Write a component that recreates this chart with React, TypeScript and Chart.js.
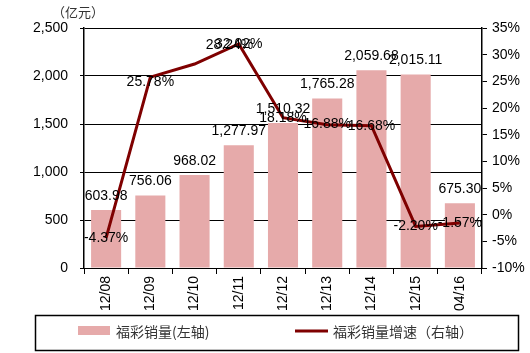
import React, { useEffect, useRef } from "react";
import { Chart, registerables } from "chart.js";

Chart.register(...registerables);

const categories = ["12/08", "12/09", "12/10", "12/11", "12/12", "12/13", "12/14", "12/15", "04/16"];
const salesValues = [603.98, 756.06, 968.02, 1277.97, 1510.32, 1765.28, 2059.68, 2015.11, 675.3];
const growthValues = [-4.37, 25.78, 28.24, 32.02, 18.18, 16.88, 16.68, -2.2, -1.57];
const leftTicks = [0, 500, 1000, 1500, 2000, 2500];
const rightTicks = [-10, -5, 0, 5, 10, 15, 20, 25, 30, 35];
const salesLabel = "福彩销量(左轴)";
const growthLabel = "福彩销量增速（右轴）";
const unitLabel = "（亿元）";

const BAR_COLOR = "#E6AAAA";
const LINE_COLOR = "#7F0000";
const NUM_FONT = "14px 'Liberation Sans', Arial, sans-serif";
const CJK_FONT = "14px 'Noto Sans CJK SC', sans-serif";

const fmtSales = (v: number) =>
  v.toLocaleString("en-US", { minimumFractionDigits: 2, maximumFractionDigits: 2 });
const fmtPct = (v: number) => v.toFixed(2) + "%";

// label offsets for line labels (index -> [dx, dy]) to mimic manual placement
const lineLabelShift: Record<number, [number, number]> = { 2: [35, -19], 1: [0, 5] };

const labelsPlugin = {
  id: "customLabels",
  afterDatasetsDraw(chart: any) {
    const ctx = chart.ctx;
    ctx.save();
    ctx.font = NUM_FONT;
    ctx.fillStyle = "#000";
    ctx.textAlign = "center";
    ctx.textBaseline = "middle";
    const barMeta = chart.getDatasetMeta(0);
    barMeta.data.forEach((el: any, i: number) => {
      ctx.fillText(fmtSales(salesValues[i]), el.x, el.y - 14);
    });
    const lineMeta = chart.getDatasetMeta(1);
    lineMeta.data.forEach((el: any, i: number) => {
      const s = lineLabelShift[i] || [0, 0];
      ctx.fillText(fmtPct(growthValues[i]), el.x + s[0], el.y + s[1]);
    });
    ctx.restore();
  },
  afterDraw(chart: any) {
    const ctx = chart.ctx;
    ctx.save();
    // unit label
    ctx.font = "13px 'Noto Sans CJK SC', sans-serif";
    ctx.fillStyle = "#333";
    ctx.textAlign = "left";
    ctx.textBaseline = "middle";
    ctx.fillText(unitLabel, 52, 12);
    // legend box
    ctx.strokeStyle = "#000";
    ctx.lineWidth = 1.5;
    ctx.strokeRect(35.5, 315.5, 483, 35);
    ctx.fillStyle = BAR_COLOR;
    ctx.fillRect(78, 326, 32, 9);
    ctx.font = CJK_FONT;
    ctx.fillStyle = "#333";
    ctx.fillText(salesLabel, 116, 332);
    ctx.strokeStyle = LINE_COLOR;
    ctx.lineWidth = 3;
    ctx.beginPath();
    ctx.moveTo(295, 331);
    ctx.lineTo(328, 331);
    ctx.stroke();
    ctx.fillText(growthLabel, 333, 332);
    ctx.restore();
  },
};

export default function App() {
  const ref = useRef<HTMLCanvasElement | null>(null);
  useEffect(() => {
    document.body.style.margin = "0";
    const canvas = ref.current!;
    const chart = new Chart(canvas, {
      type: "bar",
      data: {
        labels: categories,
        datasets: [
          {
            type: "bar",
            label: salesLabel,
            data: salesValues,
            backgroundColor: BAR_COLOR,
            yAxisID: "y",
            barPercentage: 0.68,
            categoryPercentage: 1,
            order: 1,
          },
          {
            type: "line",
            label: growthLabel,
            data: growthValues,
            borderColor: LINE_COLOR,
            backgroundColor: LINE_COLOR,
            borderWidth: 3,
            pointRadius: 0,
            tension: 0,
            yAxisID: "y1",
            order: 0,
          } as any,
        ],
      },
      options: {
        responsive: false,
        animation: false,
        layout: { padding: { top: 28, bottom: 40, left: 0, right: 0 } },
        plugins: { legend: { display: false }, tooltip: { enabled: false } },
        scales: {
          x: {
            grid: { offset: true, drawOnChartArea: false, color: "#000", tickLength: 6 },
            border: { color: "#000", width: 1 },
            ticks: {
              color: "#000",
              font: { family: "'Liberation Sans', Arial, sans-serif", size: 14 },
              minRotation: 90,
              maxRotation: 90,
              padding: 2,
            },
            afterFit: (s: any) => {
              s.height = 45;
            },
          },
          y: {
            position: "left",
            min: 0,
            max: 2500,
            afterBuildTicks: (s: any) => {
              s.ticks = leftTicks.map((v) => ({ value: v }));
            },
            grid: { color: "#000", lineWidth: 1, tickLength: 4 },
            border: { color: "#000", width: 1.5 },
            ticks: {
              color: "#000",
              font: { family: "'Liberation Sans', Arial, sans-serif", size: 14 },
              padding: 12,
              callback: (v: any) => Number(v).toLocaleString("en-US"),
            },
            afterFit: (s: any) => {
              s.width = 84;
            },
          },
          y1: {
            position: "right",
            min: -10,
            max: 35,
            afterBuildTicks: (s: any) => {
              s.ticks = rightTicks.map((v) => ({ value: v }));
            },
            grid: { drawOnChartArea: false, color: "#000", tickLength: 5 },
            border: { color: "#000", width: 1.5 },
            ticks: {
              color: "#000",
              font: { family: "'Liberation Sans', Arial, sans-serif", size: 14 },
              padding: 5,
              callback: (v: any) => v + "%",
            },
            afterFit: (s: any) => {
              s.width = 48;
            },
          },
        },
      },
      plugins: [labelsPlugin],
    });
    return () => chart.destroy();
  }, []);
  return (
    <div style={{ width: 530, height: 353 }}>
      <canvas ref={ref} width={530} height={353} style={{ display: "block" }} />
    </div>
  );
}
